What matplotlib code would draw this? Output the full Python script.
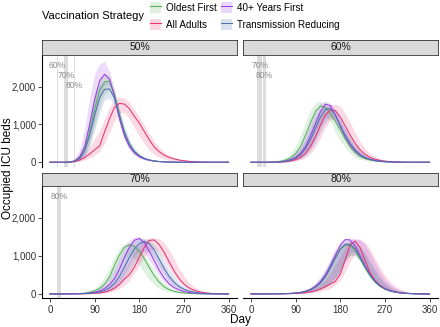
import matplotlib
matplotlib.use("Agg")
import matplotlib.pyplot as plt
from matplotlib.patches import Patch
from matplotlib.lines import Line2D
from matplotlib.ticker import FuncFormatter

plt.rcParams['font.family'] = ['Liberation Sans', 'DejaVu Sans']

# ---- data: occupied ICU beds, sampled every 10 days (0..360) ----
days = list(range(0, 361, 10))
coverage = ['50%', '60%', '70%', '80%']
strategies = ['Oldest First', 'All Adults', '40+ Years First', 'Transmission Reducing']

# 50% coverage
oldest_50 = [0,0,0,0,5,30,110,330,800,1400,1900,2130,2150,1800,1250,780,470,280,170,100,60,35,20,12,6,3,0,0,0,0,0,0,0,0,0,0,0]
oldest_50_lo = [0,0,0,0,0,10,50,180,480,950,1450,1800,1900,1600,1100,650,380,220,130,75,45,25,15,8,4,0,0,0,0,0,0,0,0,0,0,0,0]
oldest_50_hi = [0,0,0,0,10,60,200,550,1200,1850,2250,2350,2300,1950,1400,900,560,340,210,125,75,45,25,15,8,4,0,0,0,0,0,0,0,0,0,0,0]
adults_50 = [0,0,0,0,3,20,60,120,220,330,430,800,1150,1450,1560,1540,1420,1220,1040,820,600,410,280,190,130,90,60,40,25,15,8,4,0,0,0,0,0]
adults_50_lo = [0,0,0,0,0,5,25,60,120,190,280,500,800,1100,1300,1320,1150,920,700,500,330,210,130,85,55,35,20,12,6,3,0,0,0,0,0,0,0]
adults_50_hi = [0,0,0,0,5,40,120,250,420,620,850,1150,1450,1650,1720,1700,1580,1400,1200,980,760,560,400,280,190,130,90,60,40,25,15,8,4,0,0,0,0]
forty_50 = [0,0,0,0,5,40,150,420,1000,1650,2150,2330,2200,1750,1150,700,420,250,150,90,55,30,18,10,5,3,0,0,0,0,0,0,0,0,0,0,0]
forty_50_lo = [0,0,0,0,0,10,60,200,550,1100,1700,2050,2050,1650,1050,600,330,190,110,65,40,20,12,6,3,0,0,0,0,0,0,0,0,0,0,0,0]
forty_50_hi = [0,0,0,0,15,100,350,900,1700,2350,2600,2680,2400,1900,1300,850,520,320,200,120,75,45,25,15,8,4,0,0,0,0,0,0,0,0,0,0,0]
transm_50 = [0,0,0,0,5,30,100,300,720,1250,1700,1930,1940,1700,1250,800,480,290,175,105,62,36,20,12,6,3,0,0,0,0,0,0,0,0,0,0,0]
transm_50_lo = [0,0,0,0,0,8,45,160,420,850,1300,1650,1700,1500,1080,650,380,220,130,75,45,25,14,8,4,0,0,0,0,0,0,0,0,0,0,0,0]
transm_50_hi = [0,0,0,0,10,55,190,520,1100,1700,2050,2150,2100,1850,1400,950,600,370,230,140,85,50,28,16,8,4,0,0,0,0,0,0,0,0,0,0,0]

# 60% coverage
oldest_60 = [0,0,0,0,2,10,30,60,120,230,420,720,1050,1350,1490,1450,1300,1080,850,620,400,250,150,95,60,37,22,13,7,4,2,0,0,0,0,0,0]
oldest_60_lo = [0,0,0,0,0,3,10,25,50,100,190,340,560,850,1100,1220,1080,800,560,400,230,130,80,48,28,17,10,5,2,0,0,0,0,0,0,0,0]
oldest_60_hi = [0,0,0,5,15,35,70,130,240,430,720,1060,1380,1580,1620,1540,1380,1150,900,700,500,330,210,135,85,52,32,19,11,6,3,0,0,0,0,0,0]
adults_60 = [0,0,0,0,0,2,5,15,35,70,130,240,420,680,980,1250,1380,1370,1200,960,720,500,330,210,130,80,50,30,18,10,5,2,0,0,0,0,0]
adults_60_lo = [0,0,0,0,0,0,2,6,15,32,65,125,230,400,650,920,1120,1150,1000,760,530,350,220,135,82,50,30,17,9,4,0,0,0,0,0,0,0]
adults_60_hi = [0,0,0,0,2,6,15,35,75,150,270,450,700,1000,1250,1440,1530,1540,1480,1300,1050,780,550,370,240,155,100,62,38,22,12,6,3,0,0,0,0]
forty_60 = [0,0,0,0,2,6,15,35,70,130,240,420,700,1020,1330,1540,1500,1250,950,680,460,300,190,120,75,45,28,16,9,5,2,0,0,0,0,0,0]
forty_60_lo = [0,0,0,0,0,2,5,12,28,55,110,210,380,620,900,1150,1250,1100,830,580,380,240,150,92,56,34,20,12,6,3,0,0,0,0,0,0,0]
forty_60_hi = [0,0,0,2,6,15,35,75,140,260,450,720,1050,1350,1560,1620,1560,1380,1120,850,610,420,280,180,115,72,45,27,16,9,5,2,0,0,0,0,0]
transm_60 = [0,0,0,0,1,4,10,25,55,110,200,360,600,900,1200,1400,1420,1250,980,720,500,330,210,130,80,50,30,18,10,5,2,0,0,0,0,0,0]
transm_60_lo = [0,0,0,0,0,1,4,10,25,50,95,180,320,530,800,1050,1180,1100,860,610,400,250,155,95,58,35,20,11,6,3,0,0,0,0,0,0,0]
transm_60_hi = [0,0,0,1,4,10,25,55,110,210,370,600,900,1200,1420,1520,1500,1370,1150,900,660,460,300,190,120,75,46,28,16,9,4,2,0,0,0,0,0]

# 70% coverage
oldest_70 = [0,0,0,2,4,7,12,20,45,85,145,260,450,750,1020,1230,1290,1250,1120,930,700,480,310,190,115,70,42,25,15,8,4,2,0,0,0,0,0]
oldest_70_lo = [0,0,0,1,2,4,8,15,28,50,95,170,300,500,740,940,1020,940,760,560,380,240,145,88,52,30,17,10,5,2,0,0,0,0,0,0,0]
oldest_70_hi = [0,0,0,3,6,10,25,45,85,150,260,440,700,980,1200,1330,1360,1320,1200,1030,820,610,430,290,185,115,70,42,25,14,8,4,2,0,0,0,0]
adults_70 = [0,0,0,1,1,2,3,5,9,15,27,48,85,150,250,390,500,700,960,1220,1410,1420,1300,1100,850,610,410,260,160,98,58,34,19,10,5,2,0]
adults_70_lo = [0,0,0,0,0,1,1,2,4,8,14,25,45,80,140,230,360,540,760,980,1140,1180,1090,900,680,480,320,205,128,78,46,27,15,8,4,2,0]
adults_70_hi = [0,0,0,1,2,4,6,10,18,32,56,98,165,270,420,620,860,1100,1300,1420,1470,1480,1450,1350,1160,920,680,470,310,195,120,72,42,24,13,6,2]
forty_70 = [0,0,0,2,4,6,8,14,25,45,80,140,240,400,650,960,1230,1410,1460,1350,1130,880,630,420,270,170,105,64,38,22,12,6,3,0,0,0,0]
forty_70_lo = [0,0,0,1,2,3,3,6,11,20,36,65,115,200,340,540,780,1000,1120,1080,900,680,480,320,205,128,78,47,28,16,9,4,0,0,0,0,0]
forty_70_hi = [0,0,0,3,6,10,15,28,50,90,160,270,440,680,960,1230,1420,1500,1500,1440,1300,1100,880,660,470,320,210,135,85,52,31,18,10,5,2,0,0]
transm_70 = [0,0,0,1,2,3,5,9,16,28,50,90,160,280,460,700,960,1180,1320,1380,1330,1160,920,680,470,310,200,125,78,48,28,16,9,5,2,0,0]
transm_70_lo = [0,0,0,0,1,1,2,4,8,14,25,45,80,140,240,390,590,820,1020,1130,1110,950,730,520,350,225,140,86,52,31,18,10,5,2,0,0,0]
transm_70_hi = [0,0,0,2,4,6,10,18,32,56,100,175,300,490,740,1020,1260,1400,1460,1470,1420,1300,1110,880,650,450,300,195,125,78,48,29,17,10,5,2,0]

# 80% coverage
oldest_80 = [0,0,0,1,2,3,5,8,13,22,38,65,110,185,300,470,700,960,1180,1290,1280,1140,920,680,470,310,200,125,78,48,29,17,10,5,2,0,0]
oldest_80_lo = [0,0,0,0,1,1,2,4,6,10,17,28,46,75,120,185,280,420,620,860,1010,1000,850,640,450,300,190,118,72,43,25,14,8,4,0,0,0]
oldest_80_hi = [0,0,0,2,3,5,8,13,22,37,62,100,165,265,410,610,860,1100,1280,1360,1360,1300,1200,1020,800,580,400,260,165,102,62,37,22,12,6,2,0]
adults_80 = [0,0,0,1,1,2,3,5,8,13,21,35,55,85,130,190,260,330,520,900,1300,1390,1220,880,560,360,230,145,90,56,34,20,11,6,3,0,0]
adults_80_lo = [0,0,0,0,0,1,1,2,4,6,10,16,26,42,66,100,150,230,360,580,860,1050,1000,800,540,340,215,135,82,50,30,17,9,5,2,0,0]
adults_80_hi = [0,0,0,1,2,4,5,9,15,24,40,65,105,165,250,370,530,750,1000,1240,1400,1450,1440,1360,1180,940,700,490,330,210,130,80,48,28,15,8,3]
forty_80 = [0,0,0,1,2,3,5,9,15,25,42,72,120,200,320,500,740,1020,1280,1430,1420,1260,1010,750,520,340,215,135,84,52,31,18,10,5,2,0,0]
forty_80_lo = [0,0,0,0,1,1,2,4,7,12,20,33,55,90,140,210,300,420,620,900,1100,1120,960,720,500,330,210,130,80,48,28,16,9,4,0,0,0]
forty_80_hi = [0,0,0,2,4,5,8,14,24,40,66,110,180,290,450,660,920,1180,1380,1460,1470,1450,1420,1300,1080,820,580,390,250,160,100,62,38,22,12,6,2]
transm_80 = [0,0,0,1,2,3,5,8,13,22,37,62,105,175,285,450,680,940,1170,1300,1300,1180,960,720,500,330,210,132,82,50,30,18,10,5,2,0,0]
transm_80_lo = [0,0,0,0,1,1,2,4,6,10,17,28,45,72,115,180,270,400,600,850,1020,1020,880,670,470,315,200,125,76,45,26,15,8,4,0,0,0]
transm_80_hi = [0,0,0,2,3,5,8,13,22,36,60,98,160,255,400,600,850,1100,1290,1380,1390,1350,1250,1080,860,640,450,300,195,122,75,45,26,14,7,3,0]

# grey bands: day ranges when other coverage levels were reached
band_panel = ['50%', '50%', '50%', '60%', '60%', '70%']
band_label = ['60%', '70%', '80%', '70%', '80%', '80%']
band_start = [14.5, 27.6, 48.5, 13, 23.5, 14]
band_end = [16, 36.3, 50, 22, 29.5, 22]

med = {
    ('Oldest First', '50%'): oldest_50, ('All Adults', '50%'): adults_50,
    ('40+ Years First', '50%'): forty_50, ('Transmission Reducing', '50%'): transm_50,
    ('Oldest First', '60%'): oldest_60, ('All Adults', '60%'): adults_60,
    ('40+ Years First', '60%'): forty_60, ('Transmission Reducing', '60%'): transm_60,
    ('Oldest First', '70%'): oldest_70, ('All Adults', '70%'): adults_70,
    ('40+ Years First', '70%'): forty_70, ('Transmission Reducing', '70%'): transm_70,
    ('Oldest First', '80%'): oldest_80, ('All Adults', '80%'): adults_80,
    ('40+ Years First', '80%'): forty_80, ('Transmission Reducing', '80%'): transm_80,
}
lo = {
    ('Oldest First', '50%'): oldest_50_lo, ('All Adults', '50%'): adults_50_lo,
    ('40+ Years First', '50%'): forty_50_lo, ('Transmission Reducing', '50%'): transm_50_lo,
    ('Oldest First', '60%'): oldest_60_lo, ('All Adults', '60%'): adults_60_lo,
    ('40+ Years First', '60%'): forty_60_lo, ('Transmission Reducing', '60%'): transm_60_lo,
    ('Oldest First', '70%'): oldest_70_lo, ('All Adults', '70%'): adults_70_lo,
    ('40+ Years First', '70%'): forty_70_lo, ('Transmission Reducing', '70%'): transm_70_lo,
    ('Oldest First', '80%'): oldest_80_lo, ('All Adults', '80%'): adults_80_lo,
    ('40+ Years First', '80%'): forty_80_lo, ('Transmission Reducing', '80%'): transm_80_lo,
}
hi = {
    ('Oldest First', '50%'): oldest_50_hi, ('All Adults', '50%'): adults_50_hi,
    ('40+ Years First', '50%'): forty_50_hi, ('Transmission Reducing', '50%'): transm_50_hi,
    ('Oldest First', '60%'): oldest_60_hi, ('All Adults', '60%'): adults_60_hi,
    ('40+ Years First', '60%'): forty_60_hi, ('Transmission Reducing', '60%'): transm_60_hi,
    ('Oldest First', '70%'): oldest_70_hi, ('All Adults', '70%'): adults_70_hi,
    ('40+ Years First', '70%'): forty_70_hi, ('Transmission Reducing', '70%'): transm_70_hi,
    ('Oldest First', '80%'): oldest_80_hi, ('All Adults', '80%'): adults_80_hi,
    ('40+ Years First', '80%'): forty_80_hi, ('Transmission Reducing', '80%'): transm_80_hi,
}

colors = {'Oldest First': '#55b359', 'All Adults': '#e8336f',
          '40+ Years First': '#9a3ee6', 'Transmission Reducing': '#4f72b0'}

W, H = 440, 327
fig = plt.figure(figsize=(W / 100, H / 100), dpi=100)

def box(x0, x1, y0, y1):
    return [x0 / W, 1 - y1 / H, (x1 - x0) / W, (y1 - y0) / H]

layout = {'50%': (42.3, 237.3, 55, 166.6, 40),
          '60%': (243.3, 438.3, 55, 166.6, 40),
          '70%': (42.3, 237.3, 186, 298.3, 172.7),
          '80%': (243.3, 438.3, 186, 298.3, 172.7)}

label_y = [2575, 2310, 2045]

for cov in coverage:
    x0, x1, y0, y1, s0 = layout[cov]
    ax = fig.add_axes(box(x0, x1, y0, y1))
    # strip
    sax = fig.add_axes(box(x0, x1, s0, y0))
    sax.set_facecolor('#d9d9d9')
    sax.set_xticks([]); sax.set_yticks([])
    for sp in sax.spines.values():
        sp.set_color('#333333'); sp.set_linewidth(0.6)
    sax.text(0.5, 0.5, cov, ha='center', va='center', fontsize=7.5, color='#1a1a1a')

    k = 0
    for p, lab, a, b in zip(band_panel, band_label, band_start, band_end):
        if p != cov:
            continue
        ax.axvspan(a, b, color='#dcdcdc', lw=0, zorder=0)
        ax.text((a + b) / 2, label_y[k], lab, ha='center', va='center',
                fontsize=6.2, color='#8c8c8c', zorder=1)
        k += 1

    for s in strategies:
        ax.fill_between(days, lo[(s, cov)], hi[(s, cov)], color=colors[s],
                        alpha=0.18, lw=0, zorder=2)
    for s in strategies:
        ax.plot(days, med[(s, cov)], color=colors[s], lw=0.75, zorder=3)

    ax.set_xlim(-15.5, 377.7)
    ax.set_ylim(-115, 2840)
    ax.set_xticks([0, 90, 180, 270, 360])
    ax.set_yticks([0, 1000, 2000])
    ax.yaxis.set_major_formatter(FuncFormatter(lambda v, _: f'{int(v):,}'))
    for sp in ax.spines.values():
        sp.set_visible(False)
    ax.tick_params(length=3, width=0.6, color='#333333', labelsize=7,
                   labelcolor='#333333', pad=1.5)
    left = cov in ('50%', '70%')
    bottom = cov in ('70%', '80%')
    if left:
        ax.spines['left'].set_visible(True)
        ax.spines['left'].set_linewidth(0.8)
    else:
        ax.tick_params(axis='y', left=False, labelleft=False)
    if bottom:
        ax.spines['bottom'].set_visible(True)
        ax.spines['bottom'].set_linewidth(0.8)
    else:
        ax.tick_params(axis='x', bottom=False, labelbottom=False)

fig.text(8 / W, 1 - 168 / H, 'Occupied ICU beds', rotation=90, ha='center',
         va='center', fontsize=8.5)
fig.text(240 / W, 1 - 320 / H, 'Day', ha='center', va='center', fontsize=8.5)

# legend
fig.text(42 / W, 1 - 16 / H, 'Vaccination Strategy', ha='left', va='center',
         fontsize=8)
handles = []
for s in strategies:
    handles.append((Patch(facecolor=colors[s], alpha=0.2, lw=0),
                    Line2D([], [], color=colors[s], lw=0.75)))
fig.legend(handles, strategies, loc='upper left',
           bbox_to_anchor=(143 / W, 1 + 5 / H), ncol=2, frameon=False,
           fontsize=7.1, handlelength=1.1, handleheight=1.35,
           handletextpad=0.5, columnspacing=0.45, labelspacing=0.6,
           borderpad=0.2)

fig.savefig('out.png', dpi=100)
